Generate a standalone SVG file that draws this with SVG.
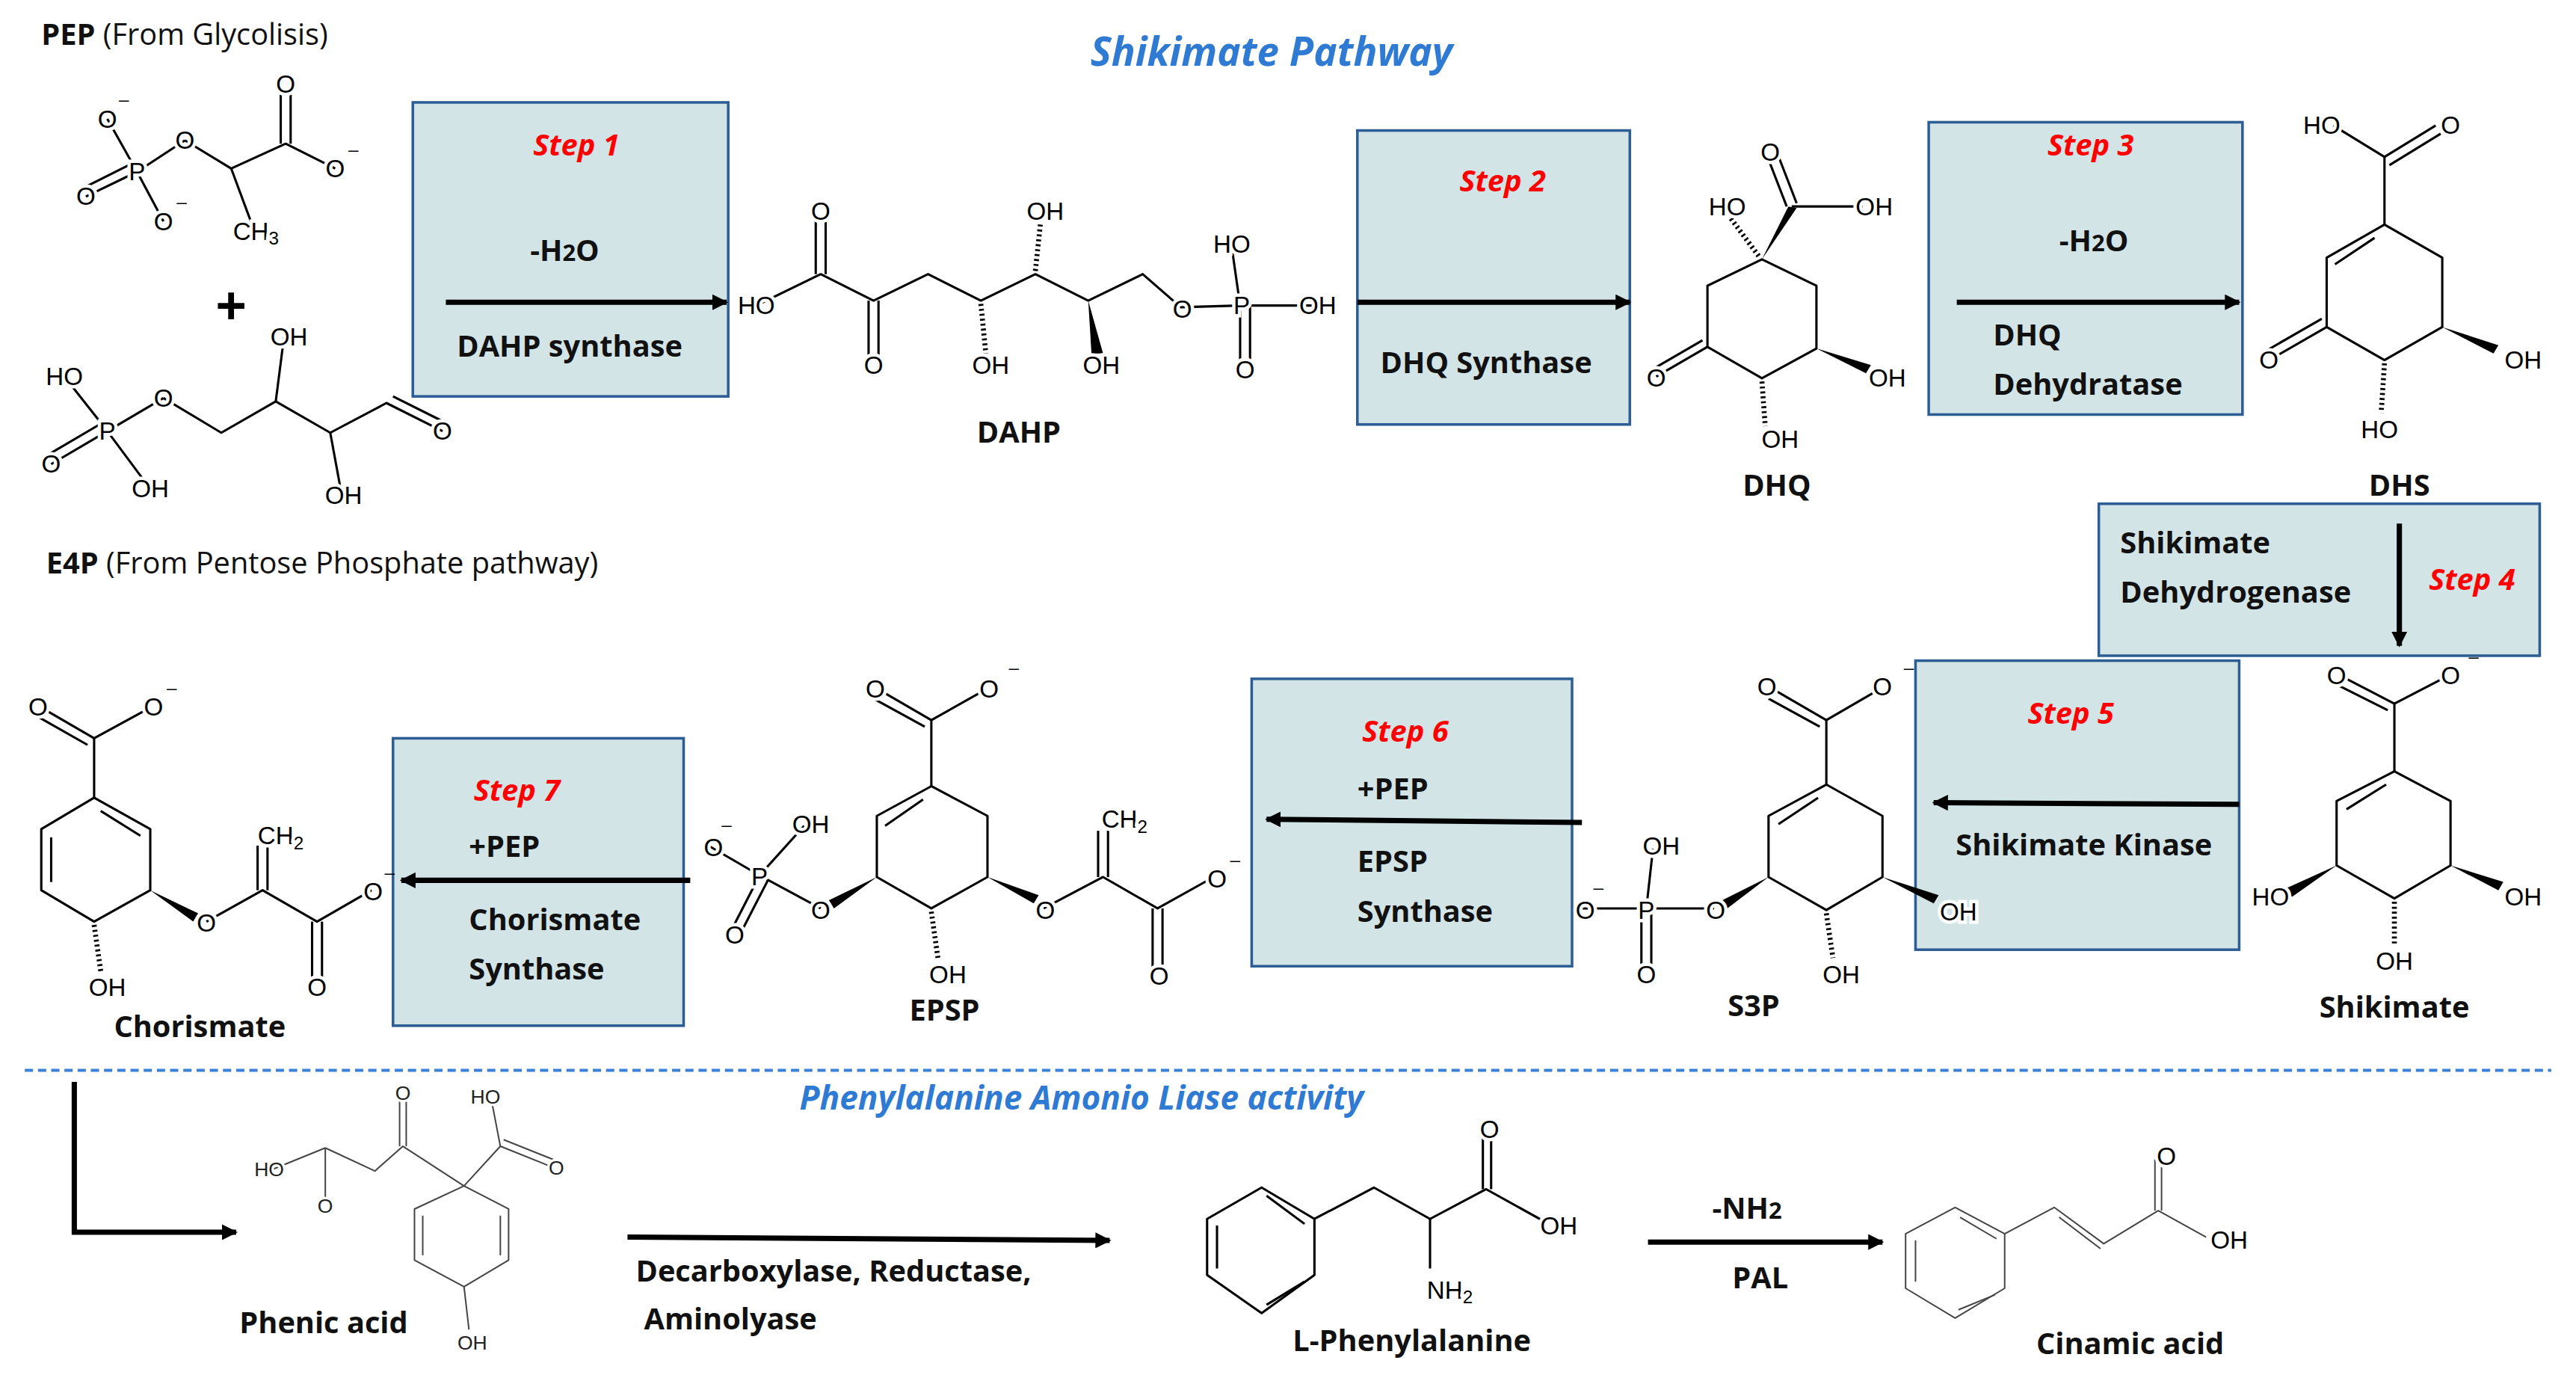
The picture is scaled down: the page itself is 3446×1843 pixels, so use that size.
<svg xmlns="http://www.w3.org/2000/svg" width="3446" height="1843" viewBox="0 0 3446 1843">
<defs>
<marker id="ah" viewBox="0 0 10 10" refX="9" refY="5" markerWidth="3" markerHeight="3" orient="auto"><path d="M0,0 L10,5 L0,10 z" fill="#000"/></marker>
<style>
.box{fill:#d3e4e6;stroke:#2c5d94;stroke-width:1.6}
.b{fill:none;stroke:#000;stroke-width:1.4;stroke-linejoin:round}
.g{fill:none;stroke:#444;stroke-width:0.9;stroke-linejoin:round}
.h{fill:none;stroke:#000;stroke-width:3;stroke-dasharray:1.2 1.8}
.w{fill:#000}
.arr{fill:none;stroke:#000;stroke-width:3.2;marker-end:url(#ah)}
.at{font-family:"Liberation Sans",Arial,sans-serif;font-size:15px;fill:#000;text-anchor:middle;dominant-baseline:central;paint-order:stroke;stroke:#fff;stroke-width:4px}
.ats{font-family:"Liberation Sans",Arial,sans-serif;font-size:12px;fill:#222;text-anchor:middle;dominant-baseline:central;paint-order:stroke;stroke:#fff;stroke-width:3px}
.mn{font-family:"Liberation Sans",Arial,sans-serif;font-size:11px;fill:#000;text-anchor:middle}
.lb{font-family:"Open Sans","Liberation Sans",sans-serif;font-weight:bold;font-size:18px;fill:#111}
.nw{font-weight:normal}
.st{font-family:"Open Sans","Liberation Sans",sans-serif;font-weight:bold;font-style:italic;font-size:18px;fill:#f00;text-anchor:middle}
.tt{font-family:"Open Sans","Liberation Sans",sans-serif;font-weight:bold;font-style:italic;fill:#2f7ad2;text-anchor:middle}
.c{text-anchor:middle}
</style>
</defs>
<rect width="3446" height="1843" fill="#fff"/>
<g transform="scale(2.209)">
<text class="tt" x="770" y="40" font-size="24">Shikimate  Pathway</text>
<text class="tt" x="655" y="672" font-size="20">Phenylalanine Amonio Liase activity</text>
<line x1="15" y1="648" x2="1545" y2="648" stroke="#3b82d6" stroke-width="1.8" stroke-dasharray="5 3"/>

<!-- PEP -->
<g id="pep">
<text class="lb nw" x="25" y="27"><tspan font-weight="bold" style="font-weight:bold">PEP</tspan> (From Glycolisis)</text>
<polyline class="b" points="65,72 83,104 99,134"/><line class="b" x1="83" y1="104" x2="112" y2="85"/>
<line class="b" x1="83" y1="104" x2="52" y2="119"/><line class="b" x1="80" y1="99" x2="50" y2="114"/>
<polyline class="b" points="112,85 140,102 173,87 203,102"/><line class="b" x1="140" y1="102" x2="153" y2="137"/>
<line class="b" x1="170" y1="87" x2="170" y2="51"/><line class="b" x1="176" y1="87" x2="176" y2="51"/>
<text class="at" x="65" y="72">O</text><text class="mn" x="75" y="64">–</text>
<text class="at" x="83" y="104">P</text><text class="at" x="52" y="119">O</text>
<text class="at" x="99" y="134">O</text><text class="mn" x="110" y="126">–</text>
<text class="at" x="112" y="85">O</text><text class="at" x="173" y="51">O</text>
<text class="at" x="203" y="102">O</text><text class="mn" x="214" y="94">–</text>
<text class="at" x="155" y="140">CH<tspan font-size="11" dy="4">3</tspan></text>
</g>
<text x="140" y="196" font-family="Liberation Sans,sans-serif" font-size="32" font-weight="bold" class="c">+</text>
<!-- E4P -->
<g id="e4p">
<polyline class="b" points="39,228 65,261 91,296"/><line class="b" x1="65" y1="261" x2="99" y2="241"/>
<line class="b" x1="65" y1="261" x2="31" y2="281"/><line class="b" x1="62" y1="256" x2="28" y2="276"/>
<polyline class="b" points="99,241 134,262 167,243 200,262 234,244 268,261"/>
<line class="b" x1="238" y1="240" x2="270" y2="256"/>
<line class="b" x1="167" y1="243" x2="172" y2="204"/><line class="b" x1="200" y1="262" x2="207" y2="300"/>
<text class="at" x="39" y="228">HO</text><text class="at" x="65" y="261">P</text><text class="at" x="31" y="281">O</text>
<text class="at" x="91" y="296">OH</text><text class="at" x="99" y="241">O</text>
<text class="at" x="175" y="204">OH</text><text class="at" x="208" y="300">OH</text><text class="at" x="268" y="261">O</text>
<text class="lb nw" x="28" y="347"><tspan style="font-weight:bold">E4P</tspan> (From Pentose Phosphate pathway)</text>
</g>

<!-- Step boxes -->
<g id="step1"><rect class="box" x="250" y="62" width="191" height="178"/>
<text class="st" x="349" y="94">Step 1</text><text class="lb c" x="342" y="158">-H<tspan font-size="14">2</tspan>O</text>
<text class="lb c" x="345" y="216">DAHP synthase</text></g>
<g id="step2"><rect class="box" x="822" y="79" width="165" height="178"/>
<text class="st" x="910" y="116">Step 2</text><text class="lb c" x="900" y="226">DHQ Synthase</text></g>
<g id="step3"><rect class="box" x="1168" y="74" width="190" height="177"/>
<text class="st" x="1266" y="94">Step 3</text><text class="lb c" x="1268" y="152">-H<tspan font-size="14">2</tspan>O</text>
<text class="lb" x="1207" y="209">DHQ</text><text class="lb" x="1207" y="239">Dehydratase</text></g>
<g id="step4"><rect class="box" x="1271" y="305" width="267" height="92"/>
<text class="lb" x="1284" y="335">Shikimate</text><text class="lb" x="1284" y="365">Dehydrogenase</text>
<text class="st" x="1497" y="357">Step 4</text></g>
<g id="step5"><rect class="box" x="1160" y="400" width="196" height="175"/>
<text class="st" x="1254" y="438">Step 5</text><text class="lb c" x="1262" y="518">Shikimate Kinase</text></g>
<g id="step6"><rect class="box" x="758" y="411" width="194" height="174"/>
<text class="st" x="851" y="449">Step 6</text><text class="lb" x="822" y="484">+PEP</text>
<text class="lb" x="822" y="528">EPSP</text><text class="lb" x="822" y="558">Synthase</text></g>
<g id="step7"><rect class="box" x="238" y="447" width="176" height="174"/>
<text class="st" x="313" y="485">Step 7</text><text class="lb" x="284" y="519">+PEP</text>
<text class="lb" x="284" y="563">Chorismate</text><text class="lb" x="284" y="593">Synthase</text></g>

<!-- DAHP -->
<g id="dahp">
<polyline class="b" points="458,185 497,166 529,182 562,166 594,182 627,166 659,182 692,166 715,186 751,185 796,185"/>
<line class="b" x1="494" y1="166" x2="494" y2="128"/><line class="b" x1="500" y1="166" x2="500" y2="128"/>
<line class="b" x1="526" y1="182" x2="526" y2="219"/><line class="b" x1="532" y1="182" x2="532" y2="219"/>
<line class="h" x1="594" y1="184" x2="597" y2="214"/><line class="h" x1="627" y1="164" x2="630" y2="136"/>
<polygon class="w" points="659,182 661,214 668,214"/>
<line class="b" x1="751" y1="185" x2="746" y2="150"/>
<line class="b" x1="751" y1="185" x2="751" y2="222"/><line class="b" x1="757" y1="185" x2="757" y2="222"/>
<text class="at" x="458" y="185">HO</text><text class="at" x="497" y="128">O</text><text class="at" x="529" y="221">O</text>
<text class="at" x="600" y="221">OH</text><text class="at" x="633" y="128">OH</text><text class="at" x="667" y="221">OH</text>
<text class="at" x="716" y="187">O</text><text class="at" x="752" y="185">P</text><text class="at" x="746" y="148">HO</text>
<text class="at" x="798" y="185">OH</text><text class="at" x="754" y="224">O</text>
<text class="lb c" x="617" y="268">DAHP</text>
</g>

<!-- DHQ -->
<g id="dhq">
<polygon class="b" points="1067,157 1034,173 1034,210 1067,229 1100,211 1100,173"/>
<polygon class="w" points="1067,157 1083,125 1088,126"/>
<line class="b" x1="1085" y1="125" x2="1128" y2="125"/>
<line class="b" x1="1082" y1="125" x2="1070" y2="94"/><line class="b" x1="1088" y1="123" x2="1076" y2="92"/>
<line class="h" x1="1065" y1="155" x2="1048" y2="132" stroke-width="2"/>
<line class="b" x1="1034" y1="210" x2="1003" y2="228"/><line class="b" x1="1031" y1="206" x2="1000" y2="224"/>
<polygon class="w" points="1100,211 1130,226 1133,221"/>
<line class="h" x1="1067" y1="231" x2="1069" y2="258"/>
<text class="at" x="1072" y="92">O</text><text class="at" x="1046" y="125">HO</text><text class="at" x="1135" y="125">OH</text>
<text class="at" x="1003" y="229">O</text><text class="at" x="1143" y="229">OH</text><text class="at" x="1078" y="266">OH</text>
<text class="lb c" x="1076" y="300">DHQ</text>
</g>

<!-- DHS -->
<g id="dhs">
<polygon class="b" points="1444,136 1409,156 1409,198 1444,218 1479,198 1479,156"/>
<line class="b" x1="1438" y1="144" x2="1414" y2="160"/>
<line class="b" x1="1444" y1="136" x2="1444" y2="95"/><line class="b" x1="1444" y1="95" x2="1413" y2="76"/>
<line class="b" x1="1444" y1="95" x2="1475" y2="76"/><line class="b" x1="1447" y1="100" x2="1478" y2="81"/>
<line class="b" x1="1409" y1="198" x2="1376" y2="217"/><line class="b" x1="1406" y1="193" x2="1373" y2="212"/>
<polygon class="w" points="1479,198 1510,214 1513,209"/>
<line class="h" x1="1444" y1="220" x2="1442" y2="250"/>
<text class="at" x="1406" y="76">HO</text><text class="at" x="1484" y="76">O</text><text class="at" x="1374" y="218">O</text>
<text class="at" x="1528" y="218">OH</text><text class="at" x="1441" y="260">HO</text>
<text class="lb c" x="1453" y="300">DHS</text>
</g>

<!-- Shikimate -->
<g id="shikimate">
<polygon class="b" points="1450,467 1415,485 1415,524 1450,544 1484,524 1484,485"/>
<line class="b" x1="1445" y1="475" x2="1421" y2="490"/>
<line class="b" x1="1450" y1="467" x2="1450" y2="426"/><line class="b" x1="1450" y1="426" x2="1419" y2="410"/>
<line class="b" x1="1446" y1="430" x2="1416" y2="415"/><line class="b" x1="1450" y1="426" x2="1481" y2="410"/>
<polygon class="w" points="1415,524 1384,538 1388,543"/><polygon class="w" points="1484,524 1513,539 1516,534"/>
<line class="h" x1="1450" y1="546" x2="1450" y2="572"/>
<text class="at" x="1415" y="409">O</text><text class="at" x="1484" y="409">O</text><text class="mn" x="1498" y="401">–</text>
<text class="at" x="1375" y="543">HO</text><text class="at" x="1528" y="543">OH</text><text class="at" x="1450" y="582">OH</text>
<text class="lb c" x="1450" y="616">Shikimate</text>
</g>

<!-- S3P -->
<g id="s3p">
<polygon class="b" points="1106,475 1071,494 1071,531 1106,551 1140,531 1140,494"/>
<line class="b" x1="1101" y1="483" x2="1077" y2="499"/>
<line class="b" x1="1106" y1="475" x2="1106" y2="436"/><line class="b" x1="1106" y1="436" x2="1075" y2="418"/>
<line class="b" x1="1102" y1="440" x2="1071" y2="423"/><line class="b" x1="1106" y1="436" x2="1137" y2="418"/>
<polygon class="w" points="1071,531 1043,545 1046,550"/><polygon class="w" points="1140,531 1171,547 1174,542"/>
<line class="h" x1="1106" y1="553" x2="1110" y2="580"/>
<line class="b" x1="958" y1="550" x2="1038" y2="550"/><line class="b" x1="997" y1="550" x2="1001" y2="514"/>
<line class="b" x1="994" y1="550" x2="994" y2="589"/><line class="b" x1="1000" y1="550" x2="1000" y2="589"/>
<text class="at" x="1070" y="416">O</text><text class="at" x="1140" y="416">O</text><text class="mn" x="1156" y="408">–</text>
<text class="at" x="1039" y="551">O</text><text class="at" x="997" y="551">P</text><text class="at" x="960" y="551">O</text><text class="mn" x="968" y="541">–</text>
<text class="at" x="1006" y="512">OH</text><text class="at" x="997" y="590">O</text>
<text class="at" x="1186" y="552">OH</text><text class="at" x="1115" y="590">OH</text>
<text class="lb c" x="1062" y="615">S3P</text>
</g>

<!-- EPSP -->
<g id="epsp">
<polygon class="b" points="564,476 531,494 531,531 564,550 598,531 598,494"/>
<line class="b" x1="559" y1="484" x2="536" y2="500"/>
<line class="b" x1="564" y1="476" x2="564" y2="436"/><line class="b" x1="564" y1="436" x2="533" y2="418"/>
<line class="b" x1="560" y1="440" x2="529" y2="423"/><line class="b" x1="564" y1="436" x2="596" y2="418"/>
<polygon class="w" points="531,531 502,545 505,550"/><polygon class="w" points="598,531 626,547 629,542"/>
<line class="h" x1="564" y1="552" x2="568" y2="580"/>
<polyline class="b" points="497,550 460,530 429,512"/><line class="b" x1="460" y1="530" x2="487" y2="500"/>
<line class="b" x1="460" y1="530" x2="443" y2="563"/><line class="b" x1="465" y1="533" x2="448" y2="566"/>
<polyline class="b" points="632,550 668,531 701,550 735,531"/>
<line class="b" x1="665" y1="531" x2="665" y2="503"/><line class="b" x1="671" y1="531" x2="671" y2="503"/>
<line class="b" x1="698" y1="550" x2="698" y2="589"/><line class="b" x1="704" y1="550" x2="704" y2="589"/>
<text class="at" x="530" y="417">O</text><text class="at" x="599" y="417">O</text><text class="mn" x="614" y="408">–</text>
<text class="at" x="497" y="551">O</text><text class="at" x="460" y="531">P</text><text class="at" x="432" y="513">O</text><text class="mn" x="440" y="503">–</text>
<text class="at" x="491" y="499">OH</text><text class="at" x="445" y="566">O</text><text class="at" x="574" y="590">OH</text>
<text class="at" x="633" y="551">O</text><text class="at" x="681" y="496">CH<tspan font-size="11" dy="4">2</tspan></text>
<text class="at" x="702" y="591">O</text><text class="at" x="737" y="532">O</text><text class="mn" x="748" y="524">–</text>
<text class="lb c" x="572" y="618">EPSP</text>
</g>

<!-- Chorismate -->
<g id="chorismate">
<polygon class="b" points="57,483 91,502 91,539 57,558 25,539 25,502"/>
<line class="b" x1="61" y1="491" x2="85" y2="506"/><line class="b" x1="31" y1="507" x2="31" y2="534"/>
<line class="b" x1="57" y1="483" x2="57" y2="447"/><line class="b" x1="57" y1="447" x2="26" y2="429"/>
<line class="b" x1="53" y1="451" x2="23" y2="434"/><line class="b" x1="57" y1="447" x2="90" y2="429"/>
<polygon class="w" points="91,539 120,553 117,558"/>
<line class="h" x1="57" y1="560" x2="61" y2="588"/>
<polyline class="b" points="125,558 159,539 192,558 225,539"/>
<line class="b" x1="156" y1="539" x2="156" y2="512"/><line class="b" x1="162" y1="539" x2="162" y2="512"/>
<line class="b" x1="189" y1="558" x2="189" y2="596"/><line class="b" x1="195" y1="558" x2="195" y2="596"/>
<text class="at" x="23" y="428">O</text><text class="at" x="93" y="428">O</text><text class="mn" x="104" y="420">–</text>
<text class="at" x="125" y="559">O</text><text class="at" x="170" y="506">CH<tspan font-size="11" dy="4">2</tspan></text>
<text class="at" x="192" y="598">O</text><text class="at" x="226" y="540">O</text><text class="mn" x="236" y="532">–</text>
<text class="at" x="65" y="598">OH</text>
<text class="lb c" x="121" y="628">Chorismate</text>
</g>

<!-- Phenic acid -->
<g id="phenic">
<polygon class="g" points="281,718 251,732 251,763 281,779 308,763 308,732"/>
<line class="g" x1="256" y1="736" x2="256" y2="760"/><line class="g" x1="303" y1="736" x2="303" y2="760"/>
<polyline class="g" points="281,718 244,694 227,709 197,695"/>
<line class="g" x1="197" y1="695" x2="197" y2="726"/><line class="g" x1="197" y1="695" x2="165" y2="708"/>
<line class="g" x1="242" y1="694" x2="242" y2="664"/><line class="g" x1="246" y1="694" x2="246" y2="664"/>
<polyline class="g" points="281,718 303,694 298,668"/>
<line class="g" x1="303" y1="694" x2="333" y2="706"/><line class="g" x1="305" y1="690" x2="335" y2="702"/>
<line class="g" x1="281" y1="779" x2="284" y2="805"/>
<text class="ats" x="244" y="662">O</text><text class="ats" x="294" y="664">HO</text><text class="ats" x="163" y="708">HO</text>
<text class="ats" x="197" y="730">O</text><text class="ats" x="337" y="707">O</text><text class="ats" x="286" y="813">OH</text>
<text class="lb c" x="196" y="807">Phenic acid</text>
</g>

<!-- L-Phenylalanine -->
<g id="lphe">
<polygon class="b" stroke-width="1.1" points="764,719 796,738 796,772 764,795 731,772 731,738"/>
<line class="b" stroke-width="1.1" x1="737" y1="742" x2="737" y2="768"/><line class="b" stroke-width="1.1" x1="790" y1="776" x2="767" y2="790"/><line class="b" stroke-width="1.1" x1="767" y1="724" x2="790" y2="741"/>
<polyline class="b" stroke-width="1.1" points="796,738 832,719 866,738 900,720 936,740"/>
<line class="b" stroke-width="1.1" x1="898" y1="720" x2="898" y2="688"/><line class="b" stroke-width="1.1" x1="903" y1="720" x2="903" y2="688"/>
<line class="b" stroke-width="1.1" x1="866" y1="738" x2="866" y2="768"/>
<text class="at" x="902" y="684">O</text><text class="at" x="944" y="742">OH</text>
<text class="at" x="878" y="781">NH<tspan font-size="11" dy="4">2</tspan></text>
<text class="lb c" x="855" y="818">L-Phenylalanine</text>
</g>

<!-- Cinamic acid -->
<g id="cinamic">
<polygon class="g" points="1184,731 1214,747 1214,780 1184,798 1154,780 1154,747"/>
<line class="g" x1="1160" y1="751" x2="1160" y2="776"/><line class="g" x1="1208" y1="784" x2="1186" y2="793"/><line class="g" x1="1187" y1="737" x2="1209" y2="750"/>
<polyline class="g" points="1214,747 1244,731 1274,753 1307,733 1336,749"/>
<line class="g" x1="1247" y1="737" x2="1272" y2="756"/>
<line class="g" x1="1305" y1="733" x2="1305" y2="702"/><line class="g" x1="1309" y1="733" x2="1309" y2="702"/>
<text class="at" x="1312" y="700">O</text><text class="at" x="1350" y="751">OH</text>
<text class="lb c" x="1290" y="820">Cinamic acid</text>
</g>

<!-- connectors -->
<g id="connectors">
<line class="arr" x1="270" y1="183" x2="440" y2="183"/>
<line class="arr" x1="822" y1="183" x2="987" y2="183"/>
<line class="arr" x1="1185" y1="183" x2="1356" y2="183"/>
<line class="arr" x1="1453" y1="317" x2="1453" y2="391" stroke-width="2"/>
<line class="arr" x1="1356" y1="487" x2="1171" y2="486"/>
<line class="arr" x1="958" y1="498" x2="767" y2="496"/>
<line class="arr" x1="418" y1="533" x2="243" y2="533"/>
<polyline class="arr" points="45,655 45,746 143,746"/>
<line class="arr" x1="380" y1="749" x2="672" y2="751"/>
<line class="arr" x1="998" y1="752" x2="1140" y2="752"/>
<text class="lb" x="385" y="776">Decarboxylase, Reductase,</text>
<text class="lb" x="390" y="805">Aminolyase</text>
<text class="lb c" x="1058" y="738">-NH<tspan font-size="14">2</tspan></text>
<text class="lb c" x="1066" y="780">PAL</text>
</g>
</g>
</svg>
